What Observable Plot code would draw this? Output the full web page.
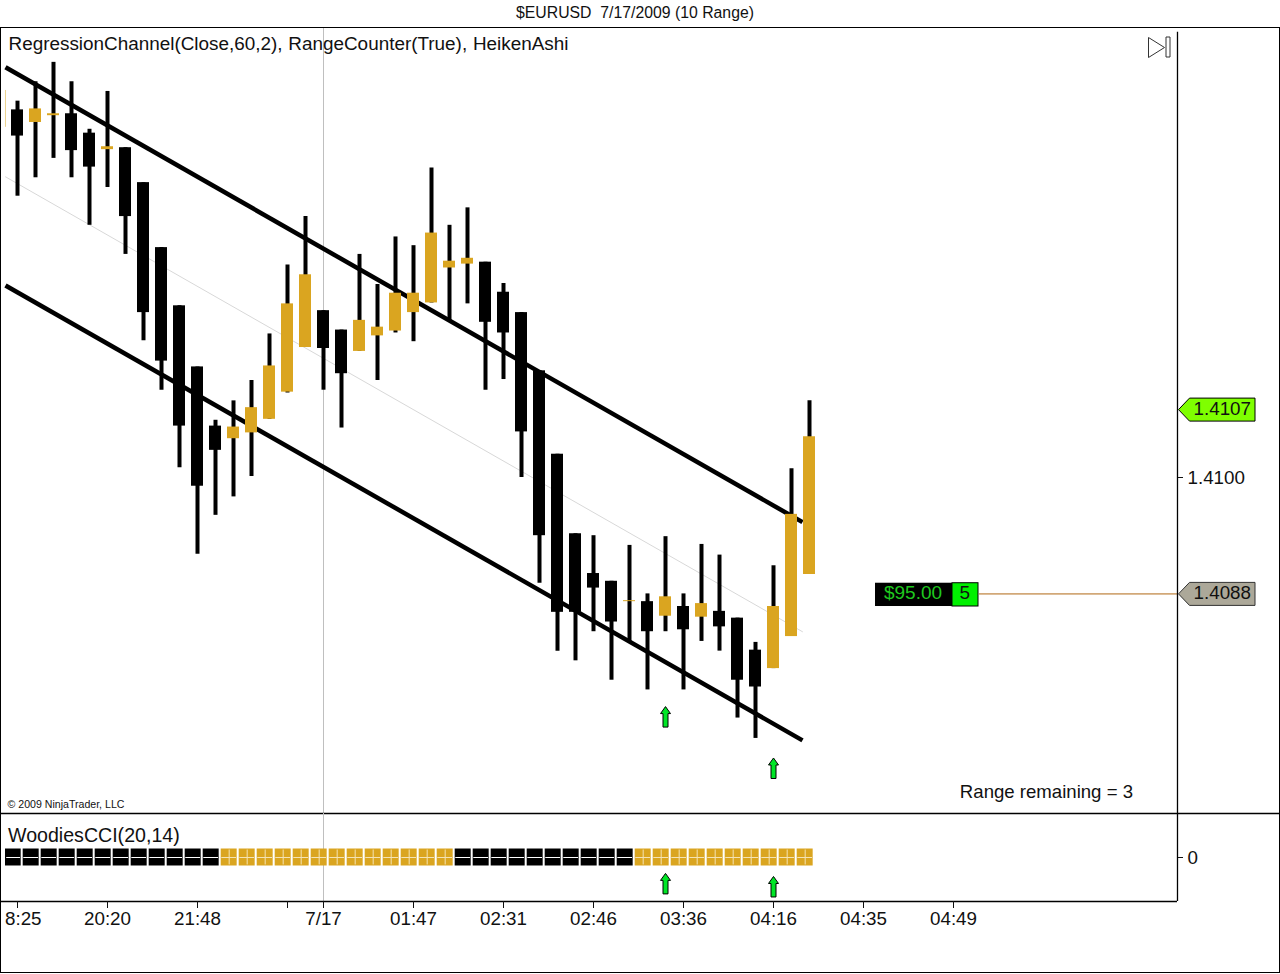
<!DOCTYPE html>
<html><head><meta charset="utf-8">
<script src="https://cdn.jsdelivr.net/npm/d3@7"></script>
<script src="https://cdn.jsdelivr.net/npm/@observablehq/plot@0.6"></script>
<style>
html,body{margin:0;padding:0;background:#fff;overflow:hidden}
#page{position:relative;width:1280px;height:974px;font-family:"Liberation Sans",Arial,sans-serif;color:#111}
#title{position:absolute;left:0;top:4px;width:1270px;text-align:center;font-size:15.8px;line-height:18px;white-space:pre}
#frame{position:absolute;left:0;top:27px;width:1278px;height:944px;border:1.3px solid #000;pointer-events:none;z-index:5}
#main,#cci{position:absolute;left:0}
#main{top:28px}#cci{top:813px}
svg{display:block;overflow:visible;background:transparent!important}
</style></head><body>
<div id="page">
<div id="title">$EURUSD  7/17/2009 (10 Range)</div>
<div id="main"></div><div id="cci"></div><div id="frame"></div>
</div>
<script>
const highs=[1.41388,1.41408,1.41428,1.41408,1.41359,1.41398,1.41340,1.41304,1.41237,1.41177,1.41114,1.41059,1.41079,1.41100,1.41148,1.41219,1.41269,1.41172,1.41152,1.41230,1.41199,1.41248,1.41239,1.41319,1.41260,1.41278,1.41222,1.41200,1.41170,1.41110,1.41024,1.40942,1.40940,1.40893,1.40930,1.40880,1.40939,1.40880,1.40931,1.40920,1.40855,1.40830,1.40909,1.41009,1.41079];
const lows=[1.41290,1.41309,1.41329,1.41309,1.41260,1.41299,1.41230,1.41141,1.41090,1.41010,1.40921,1.40961,1.40980,1.41001,1.41060,1.41087,1.41134,1.41090,1.41051,1.41130,1.41100,1.41149,1.41140,1.41180,1.41161,1.41179,1.41090,1.41101,1.41000,1.40891,1.40821,1.40811,1.40841,1.40791,1.40831,1.40781,1.40841,1.40781,1.40831,1.40821,1.40752,1.40731,1.40803,1.40836,1.40900];
const opens=[1.41379,1.41366,1.41373,1.41375,1.41355,1.41338,1.41340,1.41304,1.41237,1.41177,1.41114,1.41053,1.41040,1.41046,1.41060,1.41088,1.41134,1.41172,1.41152,1.41130,1.41146,1.41151,1.41170,1.41180,1.41216,1.41220,1.41222,1.41191,1.41170,1.41110,1.41024,1.40942,1.40901,1.40893,1.40872,1.40872,1.40857,1.40867,1.40856,1.40862,1.40855,1.40822,1.40803,1.40836,1.40900];
const closes=[1.41352,1.41380,1.41375,1.41337,1.41320,1.41341,1.41269,1.41170,1.41120,1.41053,1.40991,1.41028,1.41052,1.41072,1.41115,1.41179,1.41209,1.41133,1.41107,1.41162,1.41155,1.41190,1.41190,1.41252,1.41223,1.41226,1.41160,1.41149,1.41047,1.40940,1.40861,1.40861,1.40886,1.40851,1.40873,1.40841,1.40877,1.40843,1.40870,1.40846,1.40791,1.40784,1.40867,1.40962,1.41042];
const cciSigns=[-1,-1,-1,-1,-1,-1,-1,-1,-1,-1,-1,-1,1,1,1,1,1,1,1,1,1,1,1,1,1,-1,-1,-1,-1,-1,-1,-1,-1,-1,-1,1,1,1,1,1,1,1,1,1,1];
const tickSlots=[0,5,10,15,17,22,27,32,37,42,47,52];
const tickLabels=["","20:20","21:48","","7/17","01:47","02:31","02:46","03:36","04:16","04:35","04:49"];
const firstTickLabel="8:25";
const channelStart=-0.667, channelEnd=43.61;
const channelUpper=[1.41423,1.40954];
const channelMiddle=[1.41310,1.40841];
const channelLower=[1.41198,1.40729];
const signalSlots=[36,42];
const signalPrices=[1.40753,1.40700];
const signalCci=[-60,-67];
const cursorSlot=17;
const lastPrice=1.4107, entryPrice=1.4088, priceTick=1.41;
const pnlText="$95.00", qtyText="5";
const indicatorLabel="RegressionChannel(Close,60,2), RangeCounter(True), HeikenAshi";

const GOLD="#daa520", FONT='"Liberation Sans",Arial,sans-serif', FS=18.8;
const candles=highs.map((h,i)=>({i,h,l:lows[i],o:opens[i],c:closes[i],up:closes[i]>=opens[i]}));
const cells=cciSigns.map((s,i)=>({i,s}));
const xOpt={domain:[-0.6667,64.4444],range:[5,1177],axis:null};
const xPageL=-0.945, xPageR=70.2;

function polySym(pts){return{draw(ctx){pts.forEach((p,k)=>k?ctx.lineTo(p[0],p[1]):ctx.moveTo(p[0],p[1]));ctx.closePath();}};}
const arrowSym=polySym([[0,-10.5],[5,-3.5],[2.5,-3.5],[2.5,10],[-2.5,10],[-2.5,-3.5],[-5,-3.5]]);
const tagSym=polySym([[1,0],[12,-11.5],[77.5,-11.5],[77.5,11.5],[12,11.5]]);
const triSym=polySym([[-29,-10],[-13,0],[-29,10]]);
const barSym=polySym([[-3.5,-10.5],[0.5,-10.5],[0.5,9.5],[-3.5,9.5]]);

function lbl(text,o){return Plot.text([text],{text:d=>d,fontSize:FS,fill:"#111",lineAnchor:"middle",...o});}

const main=Plot.plot({
  width:1280,height:785,marginLeft:5,marginRight:103,marginTop:0,marginBottom:0,
  style:{fontFamily:FONT,background:"transparent"},
  x:xOpt,
  y:{domain:[1.406536,1.414629],range:[785,0],axis:null},
  marks:[
    Plot.ruleX([cursorSlot],{stroke:"#bfbfbf",strokeWidth:1}),
    Plot.ruleX([channelStart],{y1:1.41399,y2:1.41361,stroke:GOLD,strokeWidth:1,strokeOpacity:0.5}),
    Plot.line([0,1],{x:k=>k?channelEnd:channelStart,y:k=>channelMiddle[k],stroke:"#d8d8d8",strokeWidth:1}),
    Plot.line([0,1],{x:k=>k?channelEnd:channelStart,y:k=>channelUpper[k],stroke:"#000",strokeWidth:4.5,strokeLinecap:"butt"}),
    Plot.line([0,1],{x:k=>k?channelEnd:channelStart,y:k=>channelLower[k],stroke:"#000",strokeWidth:4.5,strokeLinecap:"butt"}),
    Plot.ruleX(candles,{x:"i",y1:"l",y2:"h",stroke:"#000",strokeWidth:4}),
    Plot.rect(candles,{filter:d=>!d.up,x1:d=>d.i-1/3,x2:d=>d.i+1/3,y1:"o",y2:"c",fill:"#000"}),
    Plot.rect(candles,{filter:d=>d.up,x1:d=>d.i-1/3,x2:d=>d.i+1/3,y1:"o",y2:"c",fill:GOLD}),
    Plot.dot(signalSlots,{x:d=>d,y:(d,k)=>signalPrices[k],symbol:arrowSym,fill:"#00e626",stroke:"#000",strokeWidth:1}),
    Plot.ruleY([entryPrice],{x1:53.44,x2:64.444,stroke:"#d2a878",strokeWidth:1.6}),
    Plot.rect([pnlText],{x1:47.667,x2:51.944,y1:1.40867,y2:1.40891,fill:"#000"}),
    Plot.rect([qtyText],{x1:51.944,x2:53.389,y1:1.40867,y2:1.40891,fill:"#00f000",stroke:"#000",strokeWidth:1}),
    Plot.text([pnlText],{x:49.75,y:entryPrice,dy:-0.5,text:d=>d,fill:"#1fc81f",fontSize:19,lineAnchor:"middle"}),
    Plot.text([qtyText],{x:52.62,y:entryPrice,dy:-0.5,text:d=>d,fill:"#111",fontSize:19,lineAnchor:"middle"}),
    Plot.ruleX([64.444],{y1:1.414590,y2:1.406536,stroke:"#000",strokeWidth:1.3}),
    Plot.ruleY([1.406536],{x1:xPageL,x2:xPageR,stroke:"#000",strokeWidth:1.3}),
    Plot.axisY({anchor:"right",ticks:[priceTick],tickFormat:d3.format(".4f"),tickSize:5,tickPadding:5,fontSize:FS,label:null,color:"#111"}),
    Plot.dot([lastPrice],{y:d=>d,frameAnchor:"right",symbol:tagSym,fill:"#7fff00",stroke:"#000",strokeWidth:1}),
    Plot.dot([entryPrice],{y:d=>d,frameAnchor:"right",symbol:tagSym,fill:"#aca899",stroke:"#333",strokeWidth:1}),
    Plot.text([lastPrice],{y:d=>d,frameAnchor:"right",dx:73.5,dy:-0.8,textAnchor:"end",text:d=>d3.format(".4f")(d),fontSize:FS,fill:"#111",lineAnchor:"middle"}),
    Plot.text([entryPrice],{y:d=>d,frameAnchor:"right",dx:73.5,dy:-0.8,textAnchor:"end",text:d=>d3.format(".4f")(d),fontSize:FS,fill:"#111",lineAnchor:"middle"}),
    lbl(indicatorLabel,{frameAnchor:"top-left",dx:3,dy:15,fontSize:18.9}),
    lbl("Range remaining = 3",{frameAnchor:"bottom-right",dx:-44.5,dy:-21,fontSize:18.6}),
    Plot.text(["© 2009 NinjaTrader, LLC"],{text:d=>d,frameAnchor:"bottom-left",dx:2,dy:-9,fontSize:10.6,fill:"#111",lineAnchor:"middle"}),
    Plot.dot([0],{frameAnchor:"top-right",dy:19,symbol:triSym,fill:"#fff",stroke:"#333",strokeWidth:1}),
    Plot.dot([0],{frameAnchor:"top-right",dx:-8,dy:19,symbol:barSym,fill:"#fff",stroke:"#333",strokeWidth:1})
  ]
});
document.getElementById("main").append(main);
for(const t of main.querySelectorAll("text")) if(t.textContent===indicatorLabel) t.style.wordSpacing="0.5px";

const cci=Plot.plot({
  width:1280,height:160,marginLeft:5,marginRight:103,marginTop:0,marginBottom:72,
  style:{fontFamily:FONT,background:"transparent"},
  x:xOpt,
  y:{domain:[-100,100],range:[88,0],axis:null},
  marks:[
    Plot.ruleX([cursorSlot],{stroke:"#bfbfbf",strokeWidth:1}),
    Plot.rect(cells,{filter:d=>d.s<0,x1:d=>Math.max(d.i-0.684,-0.6667),x2:d=>d.i+0.204,y1:-19.3,y2:19.3,fill:"#000"}),
    Plot.rect(cells,{filter:d=>d.s>0,x1:d=>d.i-0.684,x2:d=>d.i+0.204,y1:-19.3,y2:19.3,fill:GOLD}),
    Plot.ruleY(cells,{y:0,x1:d=>Math.max(d.i-0.65,-0.6),x2:d=>d.i+0.17,stroke:d=>d.s<0?"#fff":"#f4e3b5",strokeWidth:1}),
    Plot.ruleX(cells,{filter:d=>d.s>0,x:d=>d.i-0.24,y1:-17,y2:17,stroke:"#f4e3b5",strokeWidth:1}),
    Plot.dot(signalSlots,{x:d=>d,y:(d,k)=>signalCci[k],symbol:arrowSym,fill:"#00e626",stroke:"#000",strokeWidth:1}),
    Plot.ruleX([64.444],{y1:100,y2:-100,stroke:"#000",strokeWidth:1.3}),
    Plot.ruleY([-100],{x1:xPageL,x2:64.444,stroke:"#000",strokeWidth:1.3}),
    Plot.axisY({anchor:"right",ticks:[0],tickFormat:d=>String(d),tickSize:5,tickPadding:5,fontSize:FS,label:null,color:"#111"}),
    Plot.axisX({anchor:"bottom",ticks:tickSlots,tickFormat:d=>tickLabels[tickSlots.indexOf(d)],tickSize:7,tickPadding:3.5,fontSize:FS,label:null,color:"#111"}),
    Plot.text([firstTickLabel],{x:0,frameAnchor:"bottom",text:d=>d,dx:-12.5,dy:17.5,textAnchor:"start",fontSize:FS,fill:"#111",lineAnchor:"middle"}),
    lbl("WoodiesCCI(20,14)",{frameAnchor:"top-left",dx:2.5,dy:22,fontSize:19.6})
  ]
});
document.getElementById("cci").append(cci);
</script>
</body></html>
